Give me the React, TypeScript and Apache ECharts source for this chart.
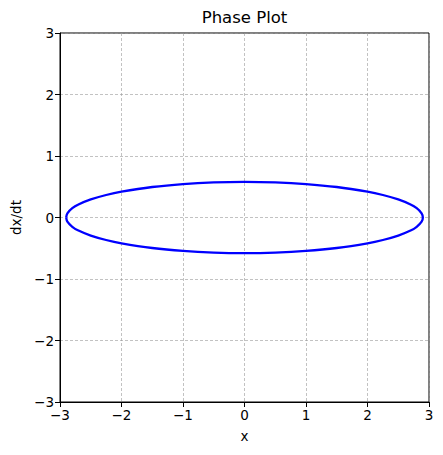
import React, { useEffect, useRef } from "react";
import * as echarts from "echarts";

// Values (x, dx/dt) around the closed orbit
const upperX = [-2.9, -2.88, -2.8, -2.7, -2.5, -2.25, -2, -1.5, -1, -0.5, 0, 0.5, 1, 1.5, 2, 2.25, 2.5, 2.7, 2.8, 2.88, 2.9];
const upperY = [0, 0.068, 0.151, 0.212, 0.294, 0.366, 0.42, 0.496, 0.544, 0.571, 0.58, 0.571, 0.544, 0.496, 0.42, 0.366, 0.294, 0.212, 0.151, 0.068, 0];
const lowerX = [2.88, 2.8, 2.7, 2.5, 2.25, 2, 1.5, 1, 0.5, 0, -0.5, -1, -1.5, -2, -2.25, -2.5, -2.7, -2.8, -2.88, -2.9];
const lowerY = [-0.068, -0.151, -0.212, -0.294, -0.366, -0.42, -0.496, -0.544, -0.571, -0.58, -0.571, -0.544, -0.496, -0.42, -0.366, -0.294, -0.212, -0.151, -0.068, 0];
const ticks = [-3, -2, -1, 0, 1, 2, 3];

const fmt = (v: number) => (v < 0 ? "\u2212" + Math.abs(v) : String(v));

export default function App() {
  const ref = useRef<HTMLDivElement>(null);
  useEffect(() => {
    const chart = echarts.init(ref.current!, null, { renderer: "svg" });
    const pts: number[][] = [];
    upperX.forEach((x, i) => pts.push([x, upperY[i]]));
    lowerX.forEach((x, i) => pts.push([x, lowerY[i]]));
    const font = "DejaVu Sans";
    const axisCommon = {
      type: "value" as const,
      min: ticks[0],
      max: ticks[ticks.length - 1],
      interval: 1,
      axisLine: { show: true, onZero: false, lineStyle: { color: "#000", width: 1 } },
      axisTick: { show: true, length: 5, inside: false, lineStyle: { color: "#000" } },
      axisLabel: { formatter: fmt, color: "#000", fontSize: 13.5, fontFamily: font, margin: 6 },
      splitLine: { show: true, lineStyle: { color: "#999", type: [3, 2], width: 0.6 } },
      nameTextStyle: { color: "#000", fontSize: 13.5, fontFamily: font },
    };
    chart.setOption({
      animation: false,
      backgroundColor: "#fff",
      graphic: [
        {
          type: "text",
          x: 244.5,
          y: 17,
          style: {
            text: "Phase Plot",
            fontSize: 16.5,
            fontFamily: font,
            fill: "#000",
            textAlign: "center",
            textVerticalAlign: "middle",
          },
        },
      ],
      grid: { left: 60, right: 14, top: 33, bottom: 53, show: true, borderColor: "#000", borderWidth: 1, backgroundColor: "transparent" },
      xAxis: { ...axisCommon, name: "x", nameLocation: "middle", nameGap: 27 },
      yAxis: { ...axisCommon, name: "dx/dt", nameLocation: "middle", nameRotate: 90, nameGap: 36 },
      series: [
        {
          type: "line",
          data: pts,
          smooth: 0.3,
          showSymbol: false,
          lineStyle: { color: "#0000ff", width: 2.3 },
        },
      ],
    });
    return () => chart.dispose();
  }, []);
  return <div ref={ref} style={{ width: 443, height: 455, position: "absolute", left: 0, top: 0 }} />;
}
